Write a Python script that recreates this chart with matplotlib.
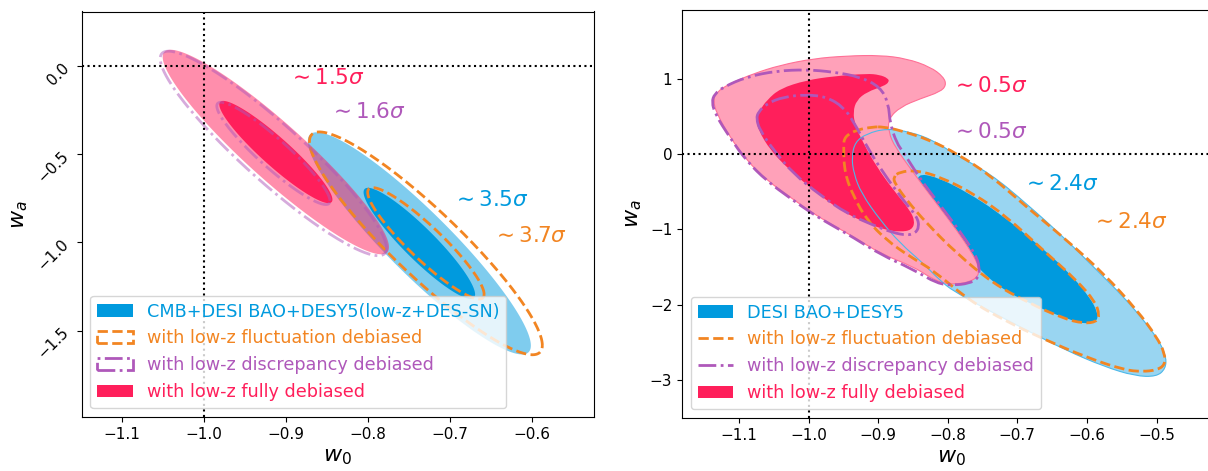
import numpy as np
import matplotlib
matplotlib.use('Agg')
import matplotlib.pyplot as plt
from matplotlib.patches import PathPatch, Patch
from matplotlib.lines import Line2D
from matplotlib.path import Path

# colours
blue = '#009ADE'
orange = '#F28522'
purple = '#AF58BA'
red = '#FF1F5B'

# ---- left panel: CMB+DESI BAO+DESY5, Gaussian ellipses (centre, sigma, correlation)
cen_blue_L = (-0.737, -1.005)
sig_blue_L = (0.068, 0.315)
rho_blue_L = -0.92
cen_orange_L = (-0.729, -1.005)
sig_orange_L = (0.071, 0.316)
rho_orange_L = -0.915
cen_red_L = (-0.912, -0.487)
sig_red_L = (0.069, 0.29)
rho_red_L = -0.93
cen_purple_L = (-0.915, -0.495)
sig_purple_L = (0.069, 0.29)
rho_purple_L = -0.927

sig_txt_L = [r'$\sim 1.5\sigma$', r'$\sim 1.6\sigma$', r'$\sim 3.5\sigma$', r'$\sim 3.7\sigma$']
sig_pos_L = [(-0.897, -0.065), (-0.847, -0.26), (-0.697, -0.76), (-0.648, -0.965)]

# ---- right panel: DESI BAO+DESY5, contours
blue_out_w0 = [-0.888, -0.854, -0.821, -0.790, -0.739, -0.687, -0.634, -0.586, -0.548, -0.519,
               -0.497, -0.486, -0.487, -0.500, -0.531, -0.575, -0.631, -0.687, -0.742, -0.792,
               -0.812, -0.835, -0.868, -0.897, -0.924, -0.935, -0.938, -0.933, -0.916]
blue_out_wa = [0.341, 0.297, 0.186, 0.0, -0.257, -0.655, -1.098, -1.54, -1.89, -2.20,
               -2.47, -2.69, -2.85, -2.956, -2.947, -2.823, -2.602, -2.336, -2.071, -1.82,
               -1.67, -1.452, -1.187, -0.877, -0.522, -0.257, -0.036, 0.164, 0.275]
blue_in_w0 = [-0.845, -0.816, -0.773, -0.725, -0.672, -0.629, -0.596, -0.584, -0.586, -0.600,
              -0.624, -0.672, -0.720, -0.754, -0.782, -0.816, -0.840]
blue_in_wa = [-0.257, -0.301, -0.500, -0.788, -1.186, -1.540, -1.895, -2.116, -2.227, -2.258,
              -2.205, -2.027, -1.806, -1.540, -1.23, -0.832, -0.478]

orange_out_w0 = [-0.893, -0.869, -0.825, -0.787, -0.739, -0.687, -0.629, -0.576, -0.528, -0.500,
                 -0.488, -0.488, -0.500, -0.520, -0.547, -0.603, -0.659, -0.715, -0.770, -0.821,
                 -0.854, -0.888, -0.916, -0.935, -0.948, -0.950, -0.948, -0.931, -0.907]
orange_out_wa = [0.363, 0.319, 0.186, 0.009, -0.279, -0.699, -1.142, -1.585, -2.072, -2.425,
                 -2.647, -2.802, -2.868, -2.889, -2.867, -2.69, -2.469, -2.226, -1.938, -1.540,
                 -1.363, -1.142, -0.877, -0.567, -0.257, 0.102, 0.235, 0.323, 0.363]
orange_in_w0 = [-0.869, -0.845, -0.811, -0.763, -0.715, -0.663, -0.615, -0.588, -0.582, -0.586,
                -0.605, -0.634, -0.682, -0.735, -0.787, -0.830, -0.859, -0.876, -0.878]
orange_in_wa = [-0.235, -0.213, -0.301, -0.522, -0.832, -1.275, -1.673, -1.961, -2.138, -2.227,
                -2.249, -2.182, -1.983, -1.717, -1.319, -0.921, -0.611, -0.390, -0.301]

red_out_w0 = [-1.137, -1.132, -1.113, -1.079, -1.041, -0.993, -0.945, -0.897, -0.859, -0.825,
              -0.806, -0.802, -0.811, -0.839, -0.868, -0.885, -0.885, -0.876, -0.845, -0.816,
              -0.787, -0.766, -0.755, -0.756, -0.768, -0.787, -0.806, -0.825, -0.849, -0.897,
              -0.935, -0.969, -0.993, -1.027, -1.060, -1.089, -1.113, -1.132]
red_out_wa = [0.717, 0.828, 0.938, 1.071, 1.182, 1.270, 1.306, 1.315, 1.270, 1.160,
              1.027, 0.916, 0.828, 0.739, 0.628, 0.474, 0.296, 0.097, -0.301, -0.655,
              -1.009, -1.297, -1.496, -1.620, -1.695, -1.726, -1.718, -1.64, -1.496, -1.319,
              -1.098, -0.921, -0.788, -0.567, -0.345, -0.080, 0.230, 0.540]
red_in_w0 = [-1.070, -1.060, -1.041, -1.003, -0.964, -0.916, -0.898, -0.886, -0.884, -0.892,
             -0.916, -0.931, -0.936, -0.933, -0.921, -0.902, -0.878, -0.854, -0.847, -0.852,
             -0.868, -0.888, -0.916, -0.955, -0.993, -1.027, -1.055, -1.072, -1.075]
red_in_wa = [0.584, 0.717, 0.872, 0.983, 1.036, 1.071, 1.055, 1.010, 0.960, 0.905,
             0.828, 0.717, 0.562, 0.385, 0.141, -0.168, -0.478, -0.744, -0.899, -1.009,
             -1.031, -1.009, -0.921, -0.744, -0.478, -0.213, 0.053, 0.319, 0.451]

purple_out_w0 = [-1.139, -1.135, -1.122, -1.089, -1.046, -1.003, -0.964, -0.926, -0.897, -0.885,
                 -0.883, -0.873, -0.864, -0.840, -0.811, -0.782, -0.761, -0.754, -0.756, -0.770,
                 -0.792, -0.815, -0.850, -0.897, -0.935, -0.969, -0.993, -1.027, -1.060, -1.089,
                 -1.113, -1.134]
purple_out_wa = [0.695, 0.80, 0.894, 1.027, 1.107, 1.124, 1.093, 1.027, 0.894, 0.673,
                 0.407, 0.142, 0.031, -0.323, -0.677, -1.031, -1.319, -1.496, -1.651, -1.718,
                 -1.74, -1.72, -1.53, -1.33, -1.11, -0.93, -0.80, -0.58, -0.355, -0.09,
                 0.22, 0.53]
purple_in_w0 = [-1.075, -1.072, -1.060, -1.036, -1.003, -0.974, -0.950, -0.935, -0.916, -0.892,
                -0.864, -0.844, -0.841, -0.847, -0.859, -0.878, -0.907, -0.945, -0.983, -1.022,
                -1.050, -1.070]
purple_in_wa = [0.474, 0.562, 0.673, 0.761, 0.792, 0.761, 0.628, 0.429, 0.097, -0.257,
                -0.611, -0.832, -0.965, -1.054, -1.076, -1.045, -0.943, -0.788, -0.545, -0.257,
                0.053, 0.319]

sig_txt_R = [r'$\sim 0.5\sigma$', r'$\sim 0.5\sigma$', r'$\sim 2.4\sigma$', r'$\sim 2.4\sigma$']
sig_pos_R = [(-0.795, 0.90), (-0.795, 0.30), (-0.694, -0.40), (-0.594, -0.90)]

labels_L = ['CMB+DESI BAO+DESY5(low-z+DES-SN)', 'with low-z fluctuation debiased',
            'with low-z discrepancy debiased', 'with low-z fully debiased']
labels_R = ['DESI BAO+DESY5', 'with low-z fluctuation debiased',
            'with low-z discrepancy debiased', 'with low-z fully debiased']
txt_col = [blue, orange, purple, red]

tt = np.linspace(0, 2 * np.pi, 300)


def ell(c, s, rho, k):
    # k-sigma contour of a 2D gaussian
    x = c[0] + k * s[0] * np.cos(tt)
    y = c[1] + k * s[1] * (rho * np.cos(tt) + np.sqrt(1 - rho ** 2) * np.sin(tt))
    return x, y


def smooth(w0, wa):
    # closed quadratic-bezier path through the traced points
    p = np.c_[w0, wa]
    mid = (p + np.roll(p, -1, axis=0)) / 2
    verts = [mid[-1]]
    codes = [Path.MOVETO]
    for i in range(len(p)):
        verts += [p[i], mid[i]]
        codes += [Path.CURVE3, Path.CURVE3]
    verts.append(mid[-1])
    codes.append(Path.CLOSEPOLY)
    return Path(verts, codes)


fig = plt.figure(figsize=(12.08, 4.71), dpi=100)
ax1 = fig.add_axes([81.5 / 1208, 54 / 471, 512.5 / 1208, 405.5 / 471])
ax2 = fig.add_axes([682 / 1208, 53 / 471, 538 / 1208, 408 / 471])

# left panel
x, y = ell(cen_blue_L, sig_blue_L, rho_blue_L, 2)
ax1.fill(x, y, color=blue, alpha=0.5, lw=0)
x, y = ell(cen_blue_L, sig_blue_L, rho_blue_L, 1)
ax1.fill(x, y, color=blue, lw=0)
x, y = ell(cen_red_L, sig_red_L, rho_red_L, 2)
ax1.fill(x, y, color=red, alpha=0.5, lw=0)
x, y = ell(cen_red_L, sig_red_L, rho_red_L, 1)
ax1.fill(x, y, color=red, lw=0)
for k in (1, 2):
    x, y = ell(cen_orange_L, sig_orange_L, rho_orange_L, k)
    ax1.plot(x, y, color=orange, ls='--', lw=2)
    x, y = ell(cen_purple_L, sig_purple_L, rho_purple_L, k)
    ax1.plot(x, y, color=purple, ls='-.', lw=2, alpha=0.5)

ax1.axvline(-1.0, color='k', ls=':', lw=1.5)
ax1.axhline(0.0, color='k', ls=':', lw=1.5)
for s, p, c in zip(sig_txt_L, sig_pos_L, [red, purple, blue, orange]):
    ax1.text(p[0], p[1], s, color=c, fontsize=15.5, va='center', ha='left')

ax1.set_xlim(-1.149, -0.524)
ax1.set_ylim(-1.99, 0.31)
ax1.set_xticks([-1.1, -1.0, -0.9, -0.8, -0.7, -0.6])
ax1.set_yticks([0.0, -0.5, -1.0, -1.5])
ax1.tick_params(labelsize=11)
ax1.tick_params(axis='y', labelrotation=45)
ax1.set_xlabel(r'$w_0$', fontsize=16, labelpad=4)
ax1.set_ylabel(r'$w_a$', fontsize=16)

hL = [Patch(facecolor=blue),
      Patch(fill=False, edgecolor=orange, ls='--', lw=2),
      Patch(fill=False, edgecolor=purple, ls='-.', lw=2),
      Patch(facecolor=red)]
ax1.legend(hL, labels_L, loc='lower left', fontsize=12.7, labelcolor=txt_col)

# right panel
ax2.add_patch(PathPatch(smooth(blue_out_w0, blue_out_wa), facecolor='#99D5F1', edgecolor='none'))
ax2.add_patch(PathPatch(smooth(blue_in_w0, blue_in_wa), facecolor=blue, edgecolor='none'))
ax2.add_patch(PathPatch(smooth(red_out_w0, red_out_wa), facecolor='#FFA1B9',
                        edgecolor='#FF7096', lw=0.8))
ax2.add_patch(PathPatch(smooth(red_in_w0, red_in_wa), facecolor=red, edgecolor='none'))
ax2.add_patch(PathPatch(smooth(blue_out_w0, blue_out_wa), fill=False, edgecolor='#4DB8E8', lw=0.8))
for w0, wa in [(orange_out_w0, orange_out_wa), (orange_in_w0, orange_in_wa)]:
    ax2.add_patch(PathPatch(smooth(w0, wa), fill=False, edgecolor=orange, ls='--', lw=2))
for w0, wa in [(purple_out_w0, purple_out_wa), (purple_in_w0, purple_in_wa)]:
    ax2.add_patch(PathPatch(smooth(w0, wa), fill=False, edgecolor=purple, ls='-.', lw=2))

ax2.axvline(-1.0, color='k', ls=':', lw=1.5)
ax2.axhline(0.0, color='k', ls=':', lw=1.5)
for s, p, c in zip(sig_txt_R, sig_pos_R, [red, purple, blue, orange]):
    ax2.text(p[0], p[1], s, color=c, fontsize=15.5, va='center', ha='left')

ax2.set_xlim(-1.1818, -0.4088)
ax2.set_ylim(-3.505, 1.916)
ax2.set_xticks([-1.1, -1.0, -0.9, -0.8, -0.7, -0.6, -0.5])
ax2.set_yticks([1, 0, -1, -2, -3])
ax2.tick_params(labelsize=11)
ax2.set_xlabel(r'$w_0$', fontsize=16, labelpad=4)
ax2.set_ylabel(r'$w_a$', fontsize=16)

hR = [Patch(facecolor=blue),
      Line2D([], [], color=orange, ls='--', lw=2),
      Line2D([], [], color=purple, ls='-.', lw=2),
      Patch(facecolor=red)]
ax2.legend(hR, labels_R, loc='lower left', fontsize=12.7, labelcolor=txt_col)

fig.savefig('out.png', dpi=100)
